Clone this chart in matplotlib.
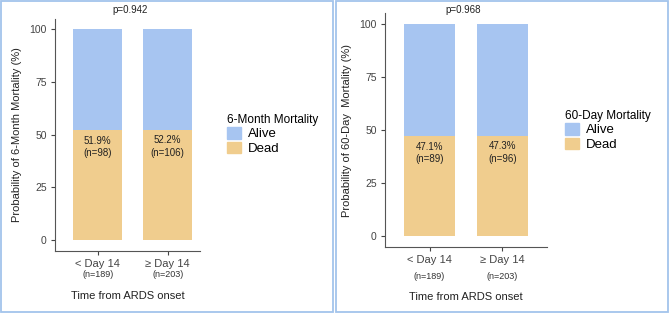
import matplotlib
matplotlib.use('Agg')
import matplotlib.pyplot as plt
from matplotlib.patches import Rectangle, Patch
import numpy as np

plt.rcParams['font.family'] = ['Liberation Sans', 'DejaVu Sans']

groups = ['< Day 14', '≥ Day 14']
n_total = [189, 203]

dead_6m = [51.9, 52.2]
n_dead_6m = [98, 106]
p_6m = 'p=0.942'

dead_60d = [47.1, 47.3]
n_dead_60d = [89, 96]
p_60d = 'p=0.968'

blue = '#a7c5f1'
tan = '#f0cd8e'
border = '#a3c4ec'

fig = plt.figure(figsize=(6.69, 3.13), dpi=100)
W, H = 669, 313

# panel borders
for x0, x1 in [(1, 333), (336, 668)]:
    fig.patches.append(Rectangle((x0 / W, 1 / H), (x1 - x0) / W, (H - 2) / H,
                                 transform=fig.transFigure, fill=False,
                                 edgecolor=border, linewidth=1.3))


def panel(rect, xlim, dead, n_dead, ptext, p_xy, ylabel, legend_title,
          legend_pos, xlabelpad, n_off):
    ax = fig.add_axes(rect)
    x = np.array([1, 2])
    alive = [100 - d for d in dead]
    ax.bar(x, dead, width=0.7, color=tan)
    ax.bar(x, alive, bottom=dead, width=0.7, color=blue)
    for xi, d, nd in zip(x, dead, n_dead):
        ax.text(xi, d - 2.5, f'{d}%\n(n={nd})', ha='center', va='top',
                fontsize=7, color='#222222', linespacing=1.3)
    ax.set_xlim(*xlim)
    ax.set_ylim(-5, 105)
    ax.set_yticks([0, 25, 50, 75, 100])
    ax.set_xticks(x)
    ax.set_xticklabels(groups, fontsize=8, color='#333333')
    for xi, n in zip(x, n_total):
        ax.text(xi, n_off, f'(n={n})', transform=ax.get_xaxis_transform(),
                ha='center', va='top', fontsize=6.5, color='#333333')
    ax.tick_params(axis='y', labelsize=7.5, colors='#444444', length=3, pad=3)
    ax.tick_params(axis='x', colors='#444444', length=3, pad=3)
    for s in ['top', 'right']:
        ax.spines[s].set_visible(False)
    for s in ['left', 'bottom']:
        ax.spines[s].set_color('#555555')
        ax.spines[s].set_linewidth(0.8)
    ax.set_ylabel(ylabel, fontsize=8, color='#222222', labelpad=5)
    ax.set_xlabel('Time from ARDS onset', fontsize=8, color='#222222',
                  labelpad=xlabelpad)
    fig.text(p_xy[0] / W, 1 - p_xy[1] / H, ptext, ha='center', va='center',
             fontsize=7, color='#222222')
    handles = [Patch(color=blue, label='Alive'), Patch(color=tan, label='Dead')]
    fig.legend(handles=handles, title=legend_title, loc='upper left',
               bbox_to_anchor=legend_pos, frameon=False, fontsize=9.5,
               title_fontsize=8.5, handlelength=1.1, handleheight=1.0,
               handletextpad=0.5, labelspacing=0.1, borderpad=0,
               alignment='left')
    return ax


panel([55 / W, 1 - 250.5 / H, 145 / W, 232 / H], (0.39, 2.46),
      dead_6m, n_dead_6m, p_6m, (130, 10),
      'Probability of 6-Month Mortality (%)',
      '6-Month Mortality', (220 / W, 1 - 107 / H), 16, -0.085)
panel([385 / W, 1 - 247 / H, 162 / W, 233.6 / H], (0.39, 2.61),
      dead_60d, n_dead_60d, p_60d, (463, 10),
      'Probability of 60-Day  Mortality (%)',
      '60-Day Mortality', (558 / W, 1 - 103 / H), 19, -0.105)

fig.savefig('out.png', dpi=100)
